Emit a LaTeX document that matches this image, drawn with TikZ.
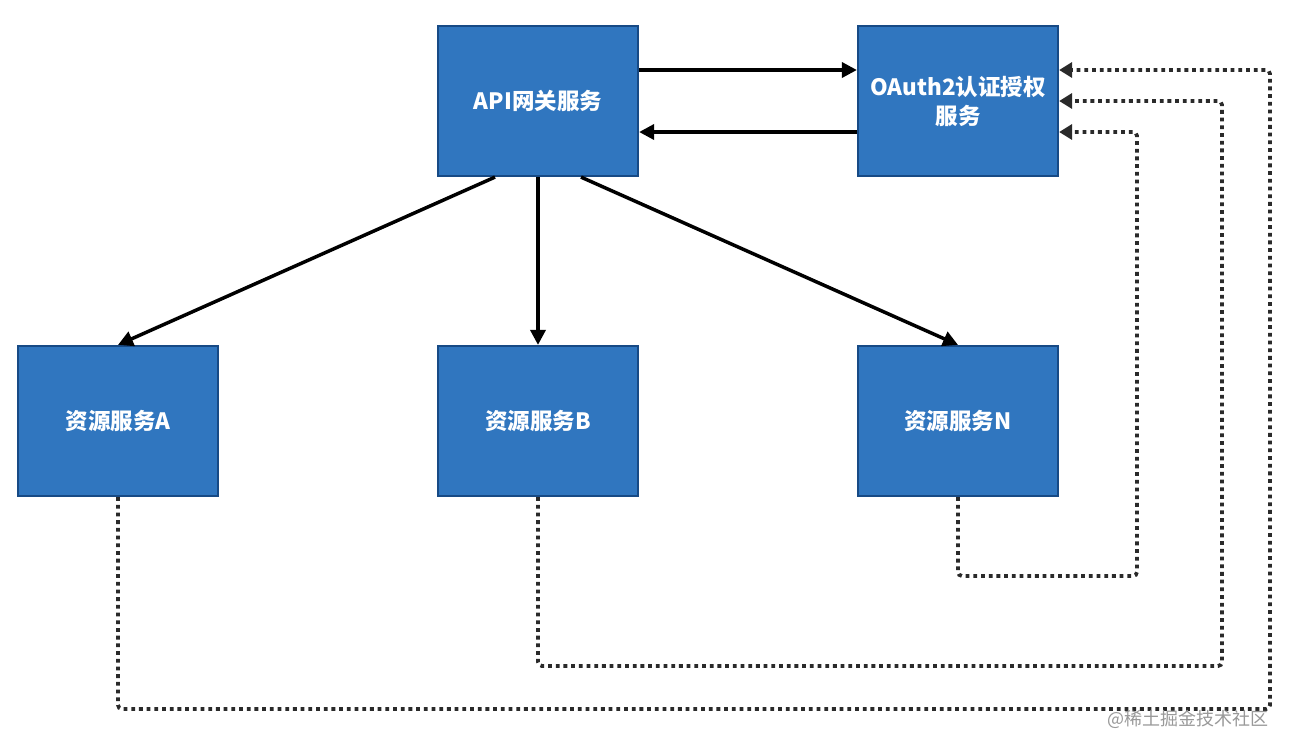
\documentclass[tikz,border=0pt]{standalone}
\usepackage{fontspec}
\newfontfamily\cjk{Noto Sans CJK SC}
\usetikzlibrary{arrows.meta,calc}
\definecolor{boxfill}{HTML}{3076BF}
\definecolor{boxline}{HTML}{174A85}
\definecolor{dotc}{HTML}{2A2A2A}
\begin{document}
\begin{tikzpicture}[x=1pt,y=-1pt,
  box/.style={draw=boxline,line width=2.2pt,fill=boxfill,minimum width=200pt,minimum height=150pt,
    text=white,font=\cjk\bfseries\fontsize{22.5}{29}\selectfont,align=center,inner sep=0pt},
  arr/.style={line width=3.5pt,black,-{Triangle[length=15pt,width=15pt]}},
  dotline/.style={line width=3.8pt,dotc,dash pattern=on 3.8pt off 3.9pt,rounded corners=4pt,
    -{Triangle[length=13pt,width=15pt]}}]
\useasboundingbox (0,0) rectangle (1292,750);
\fill[white] (0,0) rectangle (1292,750);
\node[box] (api) at (538,101) {API网关服务};
\node[box] (oauth) at (958,101) {OAuth2认证授权\\服务};
\node[box] (a) at (118,421) {资源服务A};
\node[box] (b) at (538,421) {资源服务B};
\node[box] (n) at (958,421) {资源服务N};
\coordinate (r1) at (0,70);
\coordinate (r2) at (0,101);
\coordinate (r3) at (0,132);
\coordinate (ca) at (1270,709);
\coordinate (cb) at (1222,666);
\coordinate (cn) at (1137,576);
% gateway <-> oauth
\draw[arr] (api.east |- r1) -- (oauth.west |- r1);
\draw[arr] (oauth.west |- r3) -- (api.east |- r3);
% gateway -> resources
\draw[arr] ($(api.south)+(-43,0)$) -- (a.north);
\draw[arr] (api.south) -- (b.north);
\draw[arr] ($(api.south)+(43,0)$) -- (n.north);
% resources -> oauth (dotted)
\draw[dotline] (a.south) |- (ca) -- (ca |- r1) -- (oauth.east |- r1);
\draw[dotline] (b.south) |- (cb) -- (cb |- r2) -- (oauth.east |- r2);
\draw[dotline] (n.south) |- (cn) -- (cn |- r3) -- (oauth.east |- r3);
% watermark
\node[text=black!40,font=\cjk\fontsize{18}{20}\selectfont,anchor=east] (wm) at (1272,719) {@稀土掘金技术社区};
\end{tikzpicture}
\end{document}
